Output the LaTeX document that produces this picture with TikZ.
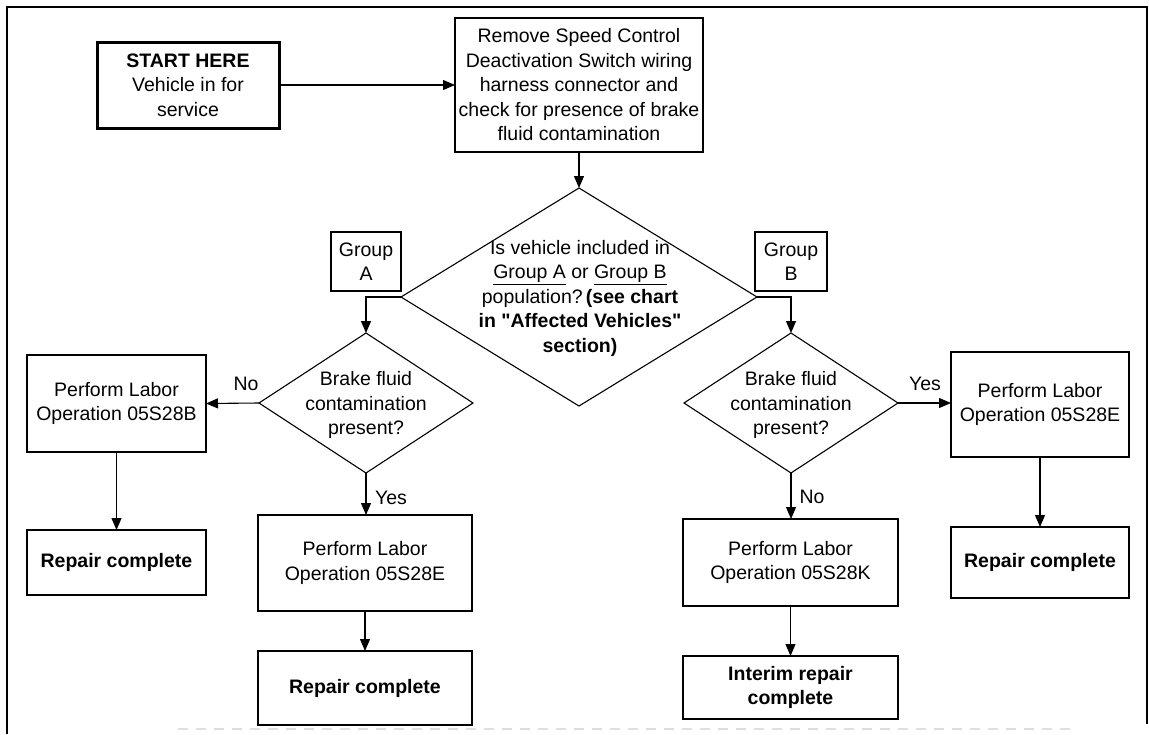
\documentclass[tikz,border=0pt]{standalone}
\usepackage{fontspec}
\setmainfont{Liberation Sans}[Ligatures=TeXOff]
\usetikzlibrary{shapes.geometric,arrows.meta}
\begin{document}
\begin{tikzpicture}[x=1pt,y=-1pt,
  every node/.style={font=\fontsize{19.5}{24.5}\selectfont},
  box/.style={draw,line width=1.1pt,rectangle,inner sep=0pt,outer sep=0pt,align=center},
  dia/.style={draw,line width=1.1pt,diamond,inner sep=0pt,outer sep=0pt},
  txt/.style={align=center,inner sep=0pt},
  arr/.style={line width=1.1pt,-{Triangle[length=12pt,width=10pt]}}
]
\useasboundingbox (0,0) rectangle (1149,734);
% frame
\draw[line width=1.5pt] (7,734) -- (7,7) -- (1147,7) -- (1147,724);
\draw[gray!25,line width=2pt,dash pattern=on 10pt off 8pt] (178,729) -- (1078,729);

% nodes
\node[box,line width=3pt,minimum width=182pt,minimum height=86pt] (start) at (188,85)
  {\textbf{START HERE}\\Vehicle in for\\service};
\node[box,minimum width=248pt,minimum height=134pt] (top) at (579,85)
  {Remove Speed Control\\Deactivation Switch wiring\\harness connector and\\check for presence of brake\\fluid contamination};
\node[dia,minimum width=356pt,minimum height=218pt] (bigq) at (579,297) {};
\node[txt] (bigqt) at (580,298)
  {Is vehicle included in\\\underline{Group A} or \underline{Group B}\\population?\,\textbf{(see chart}\\\textbf{in "Affected Vehicles"}\\\textbf{section)}};
\node[box,minimum width=70pt,minimum height=59pt] (ga) at (366,261.5) {Group\\A};
\node[box,minimum width=72pt,minimum height=59pt] (gb) at (791,261.5) {Group\\B};

\node[dia,minimum width=214pt,minimum height=140pt] (qa) at (366,403) {};
\node[txt] (qat) at (366,405) {Brake fluid\\contamination\\present?};
\node[dia,minimum width=214pt,minimum height=140pt] (qb) at (791,403) {};
\node[txt] (qbt) at (791,405) {Brake fluid\\contamination\\present?};

\node[box,minimum width=179pt,minimum height=97pt] (opb) at (116.5,403.5) {Perform Labor\\Operation 05S28B};
\node[box,minimum width=179pt,minimum height=65pt] (repl) at (116.5,562.5) {\textbf{Repair complete}};
\node[box,minimum width=214pt,minimum height=96pt] (ope) at (365,563) {Perform Labor\\Operation 05S28E};
\node[box,minimum width=214pt,minimum height=74pt] (repm) at (365,688) {\textbf{Repair complete}};
\node[box,minimum width=215pt,minimum height=87pt] (opk) at (790.5,562.5) {Perform Labor\\Operation 05S28K};
\node[box,minimum width=215pt,minimum height=63pt] (inter) at (790.5,687.5) {\textbf{Interim repair}\\\textbf{complete}};
\node[box,minimum width=178pt,minimum height=105pt] (ope2) at (1040,404.5) {Perform Labor\\Operation 05S28E};
\node[box,minimum width=178pt,minimum height=71pt] (repr) at (1040,562.5) {\textbf{Repair complete}};

% labels
\node[txt] (nol) at (246,384) {No};
\node[txt] (yesr) at (925,384) {Yes};
\node[txt] (yesl) at (391,498) {Yes};
\node[txt] (nor) at (812,497) {No};

% connectors
\draw[arr] (start.east) -- (top.west);
\draw[arr] (top.south) -- (bigq.north);
\draw[arr] (bigq.west) -| (qa.north);
\draw[arr] (bigq.east) -| (qb.north);
\draw[arr] (qa.west) -- (opb.east);
\draw[arr] (qa.south) -- (qa.south |- ope.north);
\draw[arr] (qb.east) -- (qb.east -| ope2.west);
\draw[arr] (qb.south) -- (qb.south |- opk.north);
\draw[arr] (opb.south) -- (repl.north);
\draw[arr] (ope.south) -- (repm.north);
\draw[arr] (opk.south) -- (inter.north);
\draw[arr] (ope2.south) -- (repr.north);
\end{tikzpicture}
\end{document}
